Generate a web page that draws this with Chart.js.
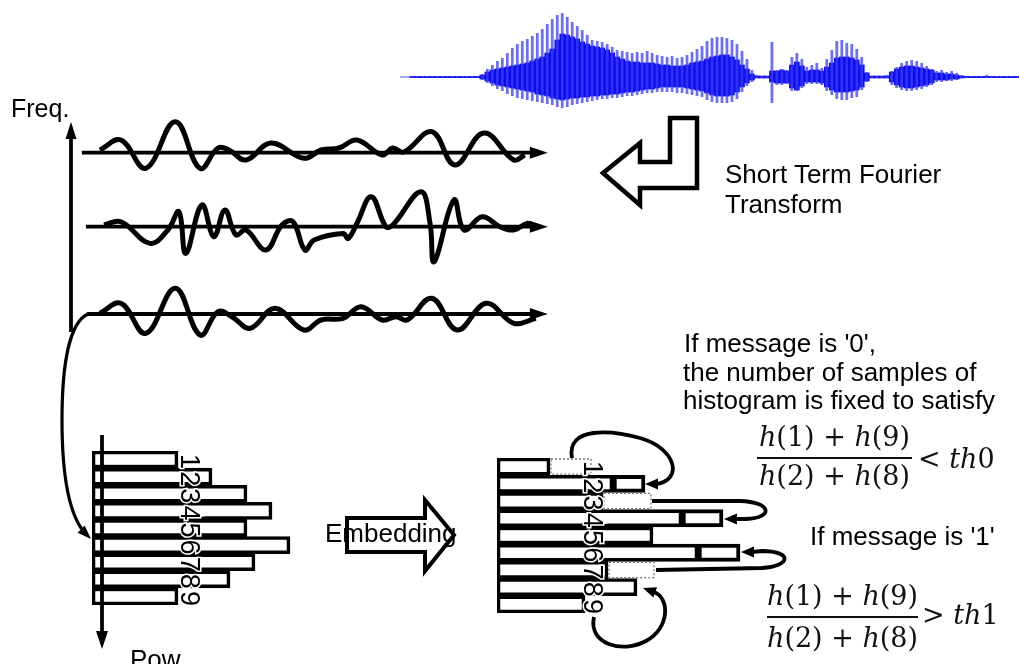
<!DOCTYPE html>
<html>
<head>
<meta charset="utf-8">
<script src="https://cdn.jsdelivr.net/npm/chart.js@4.4.1/dist/chart.umd.min.js"></script>
<style>
html, body { margin:0; padding:0; background:#fff; }
#page { position:relative; width:1019px; height:664px; overflow:hidden; font-family:"Liberation Sans", Arial, sans-serif; color:#000; }
#page canvas { position:absolute; left:0; top:0; }
.t { position:absolute; font-size:26px; line-height:26px; white-space:nowrap; }
.m { position:absolute; font-family:"DejaVu Serif", serif; font-size:27px; line-height:27px; white-space:nowrap; text-align:center; color:#111; }
.m i { font-style:italic; }
.fbar { position:absolute; height:1.6px; background:#111; }
</style>
</head>
<body>
<div id="page">
  <canvas id="c_speech" width="1019" height="664"></canvas>
  <canvas id="c_stft1" width="1019" height="664"></canvas>
  <canvas id="c_stft2" width="1019" height="664"></canvas>
  <canvas id="c_stft3" width="1019" height="664"></canvas>
  <canvas id="c_hist0" width="1019" height="664"></canvas>
  <canvas id="c_hist1" width="1019" height="664"></canvas>

  <div class="t" style="left:11px;top:96px;font-size:25px;line-height:25px">Freq.</div>
  <div class="t" style="left:725px;top:161px">Short Term Fourier</div>
  <div class="t" style="left:725px;top:191px">Transform</div>
  <div class="t" style="left:684px;top:330px">If message is '0',</div>
  <div class="t" style="left:683px;top:359px">the number of samples of</div>
  <div class="t" style="left:683px;top:387px">histogram is fixed to satisfy</div>
  <div class="t" style="left:810px;top:523px">If message is '1'</div>
  <div class="t" style="left:325px;top:520px">Embedding</div>
  <div class="t" style="left:130px;top:646px">Pow</div>

  <div class="m" style="left:757px;top:423px;width:155px"><i>h</i>(1) + <i>h</i>(9)</div>
  <div class="fbar" style="left:757px;top:457px;width:155px"></div>
  <div class="m" style="left:757px;top:462px;width:155px"><i>h</i>(2) + <i>h</i>(8)</div>
  <div class="m" style="left:918px;top:445px;text-align:left">&lt; <i>th</i>0</div>

  <div class="m" style="left:767px;top:582px;width:151px"><i>h</i>(1) + <i>h</i>(9)</div>
  <div class="fbar" style="left:767px;top:616px;width:151px"></div>
  <div class="m" style="left:767px;top:624px;width:151px"><i>h</i>(2) + <i>h</i>(8)</div>
  <div class="m" style="left:922px;top:601px;text-align:left">&gt; <i>th</i>1</div>
</div>
<script>
const W = 1019, H = 664

// speech waveform, one value per short time bin (amplitude, up is positive)
const speechSpikeTop = [0,0, 1,1,1,1,1,1,1,1,1,1,1,1,1,1,
  3,8,12,16,19,24,29,33,36,38,41,44,48,53,58,62,
  64,60,55,51,47,42,37,36,35,33,30,27,26,25,24,25,
  24,26,24,22,21,20,21,19,20,22,25,28,31,36,39,40,
  40,39,37,33,26,18,7,2,1,1,35,7,8,7,20,24,
  18,10,12,14,9,18,27,36,37,34,33,28,20,5,1,1,
  1,2,6,10,14,16,17,16,14,11,8,6,7,5,6,4,
  2,1,1,1,1,2,1,1,1,1,1,1]
const speechCoreTop = [0,0, 0.6,0.6,0.6,0.6,0.6,0.6,0.6,0.6,0.6,0.6,0.6,0.6,0.6,0.6,
  2,5,7,8,9,10,11,12,13,14,16,18,20,24,28,37,
  43,42,40,38,35,33,31,30,29,27,24,20,18,16,15,15,
  14,14,14,13,12,12,11,11,11,12,14,15,16,18,20,21,
  22,22,20,17,12,8,3,1,1,1,6,6,7,6,12,15,
  11,6,7,7,6,10,14,19,20,20,19,17,12,4,1,1,
  1,1,5,8,10,11,11,10,9,8,7,4,4,3,3,2,
  1,0.6,0.6,0.6,0.6,0.6,0.6,0.6,0.6,0.6,0.6,0.6]
const speechCoreBot = [0,0, -0.6,-0.6,-0.6,-0.6,-0.6,-0.6,-0.6,-0.6,-0.6,-0.6,-0.6,-0.6,-0.6,-0.6,
  -2,-4,-6,-8,-9,-10,-11,-12,-13,-14,-15,-17,-18,-19,-21,-22,
  -23,-22,-21,-21,-20,-20,-19,-19,-18,-18,-17,-17,-16,-15,-15,-14,
  -13,-12,-12,-11,-10,-10,-10,-10,-10,-11,-12,-13,-14,-16,-18,-19,
  -19,-19,-18,-15,-10,-6,-3,-1,-1,-1,-5,-6,-6,-6,-11,-13,
  -9,-5,-5,-5,-6,-10,-13,-15,-15,-15,-14,-13,-10,-4,-1,-1,
  -1,-1,-5,-8,-10,-11,-11,-10,-9,-8,-6,-3,-3,-3,-2,-2,
  -1,-0.6,-0.6,-0.6,-0.6,-0.6,-0.6,-0.6,-0.6,-0.6,-0.6,-0.6]
const speechSpikeBot = [0,0, -1,-1,-1,-1,-1,-1,-1,-1,-1,-1,-1,-1,-1,-1,
  -3,-6,-9,-12,-14,-17,-19,-21,-22,-23,-24,-25,-26,-27,-28,-30,
  -31,-30,-28,-27,-26,-25,-24,-23,-22,-22,-21,-21,-20,-19,-19,-18,
  -17,-16,-16,-15,-15,-15,-15,-16,-16,-17,-18,-19,-20,-23,-25,-26,
  -26,-26,-25,-22,-15,-9,-5,-1,-1,-1,-26,-8,-8,-7,-14,-14,
  -11,-7,-7,-7,-8,-14,-18,-22,-23,-23,-21,-20,-13,-5,-1,-1,
  -1,-1,-8,-11,-13,-14,-14,-13,-12,-10,-8,-5,-5,-4,-4,-3,
  -1,-1,-1,-1,-1,-1,-1,-1,-1,-1,-1,-1]

// three frequency bands after the STFT (time, amplitude)
const band1T = [4.3, 8.9, 14.3, 20.7, 26.1, 30, 32.4, 36.1, 41.5, 48.7, 52.4, 56.3, 60.2, 65.7, 68, 70.4, 76.5, 81.5, 87.8, 94.3, 96.7]
const band1A = [2.7, 12.7, -15.6, 31, -15.6, 4.7, 2.7, -7.3, 9.7, -5.6, 2.7, 4.7, 12.7, -2.3, 4.7, 0.7, 21, -12.3, 19.7, -7.3, -2.3]
const band2T = [5.2, 8.9, 15.2, 19.1, 21.5, 23, 26.5, 29.1, 31.5, 33.9, 36.1, 40.4, 43.9, 46.3, 48.9, 50.9, 57.2, 58.3, 60.2, 63.3, 66.5, 68, 74.1, 76.1, 77, 81.3, 83.5, 87.4, 91.3, 94.3, 97.2, 98.7]
const band2A = [1.7, 5, -16.7, -3.3, 15, -26.7, 21.7, -10, 16.7, -8.3, -3.3, -23.3, 1.7, 5, -23.3, -13.3, -6.7, -11.7, 3.3, 30, 0, 1.7, 35, 3.3, -35, 26.7, -3.3, 10, 0, -3.3, 3.3, 0]
const band3T = [4.3, 8.9, 14.3, 20.7, 26.1, 30, 33, 37, 42.4, 48.7, 52.4, 57.2, 61.1, 65.7, 68.7, 71.1, 76.5, 82, 88.3, 94.3, 99.1]
const band3A = [0.7, 10.7, -19.3, 25.7, -21, 2.3, -2.7, -14.3, 5.7, -16, -6, -4.3, 7.3, -6, -2.7, -6, 15.7, -16, 10.7, -9.3, -4.3]

// histogram of bins 1..9, before and after embedding
const binLabels = ['1', '2', '3', '4', '5', '6', '7', '8', '9']
const histBefore = [43, 60, 77.5, 90, 77.5, 99, 81.5, 69, 43]
const histKept = [26.5, 58, 53, 92.5, 78, 100.5, 55.5, 70, 44]
const histAdded = [null, 16, null, 20.5, null, 21, null, null, null]
const histRemoved = [21, null, 24.5, null, null, null, 23.5, null, null]

Chart.defaults.animation = false
Chart.defaults.font.family = '"Liberation Sans", Arial, sans-serif'

function pad(l, t, r, b){
    return {left: l, top: t, right: W - r, bottom: H - b}
}

function baseOptions(padding, extraPlugins){
    return {
        responsive: false,
        events: [],
        layout: {padding: padding},
        plugins: Object.assign({legend: {display: false}, tooltip: {enabled: false}}, extraPlugins || {})
    }
}

function arrowHead(ctx, x, y, ang, len, half){
    ctx.save()
    ctx.translate(x, y)
    ctx.rotate(ang)
    ctx.beginPath()
    ctx.moveTo(0, 0)
    ctx.lineTo(-len, -half)
    ctx.lineTo(-len, half)
    ctx.closePath()
    ctx.fillStyle = '#000'
    ctx.fill()
    ctx.restore()
}

const bandAxisPlugin = {
    id: 'bandAxis',
    beforeDatasetsDraw: function (chart, args, opts){
        const ctx = chart.ctx
        const y0 = chart.scales.y.getPixelForValue(0)
        const x0 = chart.scales.x.getPixelForValue(opts.from)
        const x1 = chart.scales.x.getPixelForValue(opts.to)
        ctx.save()
        ctx.strokeStyle = '#000'
        ctx.lineWidth = 3.8
        ctx.beginPath()
        ctx.moveTo(x0, y0)
        ctx.lineTo(x1 - 12, y0)
        ctx.stroke()
        arrowHead(ctx, x1, y0, 0, 18, 6)
        ctx.restore()
    }
}

const binDigitsPlugin = {
    id: 'binDigits',
    afterDatasetsDraw: function (chart, args, opts){
        const ctx = chart.ctx
        const x = chart.scales.x.getPixelForValue(opts.at)
        ctx.save()
        ctx.font = '27px "Liberation Sans", Arial, sans-serif'
        ctx.textAlign = 'center'
        ctx.textBaseline = 'middle'
        binLabels.forEach(function (lab, i){
            const y = chart.scales.y.getPixelForValue(i) + 2
            ctx.save()
            ctx.translate(x, y)
            ctx.rotate(Math.PI / 2)
            ctx.lineWidth = 3
            ctx.strokeStyle = '#fff'
            ctx.strokeText(lab, 0, 1)
            ctx.fillStyle = '#000'
            ctx.fillText(lab, 0, 1)
            ctx.restore()
        })
        ctx.restore()
    }
}

const dottedPlugin = {
    id: 'dottedBins',
    afterDatasetsDraw: function (chart, args, opts){
        const ctx = chart.ctx
        const meta = chart.getDatasetMeta(opts.dataset)
        ctx.save()
        ctx.strokeStyle = '#777'
        ctx.lineWidth = 1.3
        ctx.setLineDash([2, 2])
        meta.data.forEach(function (el, i){
            if(histRemoved[i] === null) return
            const p = el.getProps(['x', 'y', 'base', 'height'], true)
            ctx.strokeRect(p.base + 1, p.y - p.height / 2 + 1, p.x - p.base - 2, p.height - 2)
        })
        ctx.restore()
    }
}

function polyline(ctx, pts, close){
    ctx.beginPath()
    ctx.moveTo(pts[0][0], pts[0][1])
    for (let i = 1; i < pts.length; i++){
        ctx.lineTo(pts[i][0], pts[i][1])
    }
    if(close) ctx.closePath()
}

const decorPlugin = {
    id: 'decor',
    afterDraw: function (chart){
        const ctx = chart.ctx
        ctx.save()
        ctx.strokeStyle = '#000'
        ctx.lineCap = 'butt'
        ctx.lineJoin = 'miter'

        // Freq. axis
        ctx.lineWidth = 3.8
        ctx.beginPath(); ctx.moveTo(71, 332); ctx.lineTo(71, 136); ctx.stroke()
        arrowHead(ctx, 71, 122, -Math.PI / 2, 17, 5.5)

        // band 3 down to the histogram
        ctx.lineWidth = 3.2
        ctx.beginPath()
        ctx.moveTo(88, 314)
        ctx.bezierCurveTo(70, 322, 62, 362, 62, 420)
        ctx.bezierCurveTo(62, 480, 70, 515, 84, 532)
        ctx.stroke()
        arrowHead(ctx, 91, 539, Math.PI / 4, 14, 5)

        // Pow axis
        ctx.lineWidth = 3.8
        ctx.beginPath(); ctx.moveTo(102, 435); ctx.lineTo(102, 634); ctx.stroke()
        arrowHead(ctx, 102, 649, Math.PI / 2, 18, 6)

        // STFT arrow
        ctx.lineWidth = 4.5
        ctx.fillStyle = '#fff'
        polyline(ctx, [[603, 173], [640, 143], [640, 162], [670, 162], [670, 118], [697, 118], [697, 188], [640, 188], [640, 205]], true)
        ctx.fill(); ctx.stroke()

        // Embedding arrow
        ctx.lineWidth = 4
        polyline(ctx, [[347, 518], [425, 518], [425, 500], [454, 535], [425, 571], [425, 552], [347, 552]], true)
        ctx.fill(); ctx.stroke()

        // moves between bins
        ctx.lineWidth = 3.8
        ctx.beginPath()
        ctx.moveTo(572, 458)
        ctx.bezierCurveTo(566, 426, 612, 430, 640, 438)
        ctx.bezierCurveTo(676, 448, 684, 480, 656, 484)
        ctx.stroke()
        arrowHead(ctx, 645, 484, Math.PI, 13, 5.5)

        ctx.beginPath()
        ctx.moveTo(652, 501)
        ctx.lineTo(740, 501)
        ctx.bezierCurveTo(772, 502, 774, 518, 746, 519)
        ctx.lineTo(736, 519)
        ctx.stroke()
        arrowHead(ctx, 724, 519, Math.PI, 13, 5.5)

        ctx.beginPath()
        ctx.moveTo(656, 570)
        ctx.lineTo(762, 568)
        ctx.bezierCurveTo(792, 566, 792, 551, 762, 551)
        ctx.lineTo(752, 552)
        ctx.stroke()
        arrowHead(ctx, 741, 552, Math.PI, 13, 5.5)

        ctx.beginPath()
        ctx.moveTo(594, 617)
        ctx.bezierCurveTo(588, 644, 622, 654, 646, 641)
        ctx.bezierCurveTo(670, 628, 670, 598, 654, 592)
        ctx.stroke()
        arrowHead(ctx, 643, 588, Math.PI + 0.35, 13, 5.5)

        ctx.restore()
    }
}

const app = {
    drawSpeech: function (){
        const bins = speechSpikeTop.map(function (v, i){ return i })
        const core = speechCoreTop.map(function (v, i){ return [speechCoreBot[i], v] })
        const spikes = speechSpikeTop.map(function (v, i){ return [speechSpikeBot[i], v] })
        new Chart('c_speech', {
            type: 'bar',
            data: {
                labels: bins,
                datasets: [
                    {data: core, backgroundColor: 'rgb(12,12,240)', barPercentage: 1, categoryPercentage: 1, grouped: false, order: 2},
                    {data: spikes, backgroundColor: 'rgba(60,60,250,0.75)', barPercentage: 0.55, categoryPercentage: 1, grouped: false, order: 1}
                ]
            },
            options: Object.assign(baseOptions(pad(400, 0, 1019, 115)), {
                scales: {
                    x: {display: false},
                    y: {display: false, min: -38, max: 77}
                }
            })
        })
    },
    drawBand: function (id, t, a, baseY, from){
        new Chart(id, {
            type: 'line',
            data: {
                datasets: [{
                    data: t.map(function (x, i){ return {x: x, y: a[i]} }),
                    borderColor: '#000',
                    borderWidth: 5,
                    pointRadius: 0,
                    tension: 0.4,
                    fill: false,
                    clip: false
                }]
            },
            options: Object.assign(baseOptions(pad(80, baseY - 45, 540, baseY + 45), {bandAxis: {from: from, to: 101.7}}), {
                scales: {
                    x: {type: 'linear', display: false, min: 0, max: 100},
                    y: {display: false, min: -45, max: 45}
                }
            }),
            plugins: [bandAxisPlugin]
        })
    },
    drawHistBefore: function (){
        new Chart('c_hist0', {
            type: 'bar',
            data: {
                labels: binLabels,
                datasets: [{data: histBefore, backgroundColor: '#fff', borderColor: '#000', borderWidth: 3.6, borderSkipped: false, barPercentage: 1, categoryPercentage: 1}]
            },
            options: Object.assign(baseOptions(pad(92, 451, 392, 605), {binDigits: {at: 48.5}}), {
                indexAxis: 'y',
                scales: {
                    x: {display: false, min: 0, max: 150},
                    y: {display: false}
                }
            }),
            plugins: [binDigitsPlugin]
        })
    },
    drawHistAfter: function (){
        const common = {borderColor: '#000', borderSkipped: false, barPercentage: 1, categoryPercentage: 1}
        new Chart('c_hist1', {
            type: 'bar',
            data: {
                labels: binLabels,
                datasets: [
                    Object.assign({data: histKept, backgroundColor: '#fff', borderWidth: 3.6}, common),
                    Object.assign({data: histAdded, backgroundColor: '#fff', borderWidth: 4}, common),
                    Object.assign({data: histRemoved, backgroundColor: 'rgba(255,255,255,0)', borderWidth: 0}, common)
                ]
            },
            options: Object.assign(baseOptions(pad(497, 458, 797, 613), {binDigits: {at: 47.5}, dottedBins: {dataset: 2}}), {
                indexAxis: 'y',
                scales: {
                    x: {display: false, min: 0, max: 150, stacked: true},
                    y: {display: false, stacked: true}
                }
            }),
            plugins: [dottedPlugin, binDigitsPlugin, decorPlugin]
        })
    },
    run: function (){
        app.drawSpeech()
        app.drawBand('c_stft1', band1T, band1A, 152.7, 0.4)
        app.drawBand('c_stft2', band2T, band2A, 226.7, 1.3)
        app.drawBand('c_stft3', band3T, band3A, 314, 1.5)
        app.drawHistBefore()
        app.drawHistAfter()
    }
}
app.run()
</script>
</body>
</html>
